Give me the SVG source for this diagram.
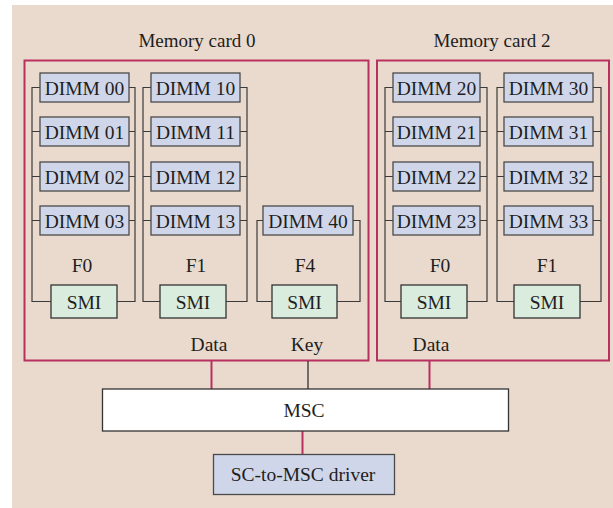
<svg xmlns="http://www.w3.org/2000/svg" width="613" height="508" viewBox="0 0 613 508">
  <style>
    .bg { fill: #eadacd; }
    .card { fill: none; stroke: #b8305f; stroke-width: 2; }
    .dimm { fill: #d0d6e9; stroke: #4a4a4a; stroke-width: 1.3; }
    .smi { fill: #d9ecdd; stroke: #333; stroke-width: 1.3; }
    .msc { fill: #ffffff; stroke: #333; stroke-width: 1.3; }
    .bus { fill: none; stroke: #3a3a3a; stroke-width: 1.2; }
    .red { stroke: #b8305f; stroke-width: 2; fill: none; }
    .key { stroke: #222; stroke-width: 1.2; fill: none; }
    text { font-family: "Liberation Serif", "Times New Roman", serif; fill: #1e1e1e; text-anchor: middle; }
    .t { font-size: 19.5px; }
    .s { font-size: 19px; }
  </style>

  <rect class="bg" x="12" y="5" width="601" height="503"/>

  <!-- Memory card 0 -->
  <g id="card0">
    <rect class="card" x="24.5" y="60.5" width="344" height="300"/>
    <text class="s" x="197" y="47">Memory card 0</text>
  </g>

  <!-- Memory card 2 -->
  <g id="card2">
    <rect class="card" x="377" y="60.5" width="232" height="300"/>
    <text class="s" x="492" y="47">Memory card 2</text>
  </g>

  <!-- connectors: DIMM brackets, buses -->
  <g id="connectors">
    <!-- F0 card 0 -->
    <path class="bus" d="M40 87.5H32V301.5H51 M32 131.5H40 M32 176.5H40 M32 220.5H40 M129 87.5H135V301.5H117 M129 131.5H135 M129 176.5H135 M129 220.5H135"/>
    <!-- F1 card 0 -->
    <path class="bus" d="M151 87.5H143V301.5H160 M143 131.5H151 M143 176.5H151 M143 220.5H151 M240 87.5H247V301.5H226 M240 131.5H247 M240 176.5H247 M240 220.5H247"/>
    <!-- F4 card 0 -->
    <path class="bus" d="M263 220.5H257V301.5H272 M353 220.5H360V301.5H337"/>
    <!-- F0 card 2 -->
    <path class="bus" d="M393 87.5H385V301.5H401 M385 131.5H393 M385 176.5H393 M385 220.5H393 M480 87.5H487V301.5H467 M480 131.5H487 M480 176.5H487 M480 220.5H487"/>
    <!-- F1 card 2 -->
    <path class="bus" d="M504 87.5H497V301.5H514 M497 131.5H504 M497 176.5H504 M497 220.5H504 M593 87.5H601V301.5H580 M593 131.5H601 M593 176.5H601 M593 220.5H601"/>
    <!-- card to MSC -->
    <line class="red" x1="211.5" y1="361" x2="211.5" y2="389"/>
    <line class="key" x1="308" y1="361" x2="308" y2="389"/>
    <line class="red" x1="429.5" y1="361" x2="429.5" y2="389"/>
    <!-- MSC to driver -->
    <line class="red" x1="302.5" y1="431" x2="302.5" y2="454.5"/>
  </g>

  <!-- card 0 DIMMs -->
  <g id="dimm00"><rect class="dimm" x="40" y="73" width="89" height="29"/><text class="t" x="84.5" y="94.5">DIMM 00</text></g>
  <g id="dimm01"><rect class="dimm" x="40" y="117" width="89" height="29"/><text class="t" x="84.5" y="138.5">DIMM 01</text></g>
  <g id="dimm02"><rect class="dimm" x="40" y="162" width="89" height="29"/><text class="t" x="84.5" y="183.5">DIMM 02</text></g>
  <g id="dimm03"><rect class="dimm" x="40" y="206" width="89" height="29"/><text class="t" x="84.5" y="227.5">DIMM 03</text></g>
  <g id="dimm10"><rect class="dimm" x="151" y="73" width="89" height="29"/><text class="t" x="195.5" y="94.5">DIMM 10</text></g>
  <g id="dimm11"><rect class="dimm" x="151" y="117" width="89" height="29"/><text class="t" x="195.5" y="138.5">DIMM 11</text></g>
  <g id="dimm12"><rect class="dimm" x="151" y="162" width="89" height="29"/><text class="t" x="195.5" y="183.5">DIMM 12</text></g>
  <g id="dimm13"><rect class="dimm" x="151" y="206" width="89" height="29"/><text class="t" x="195.5" y="227.5">DIMM 13</text></g>
  <g id="dimm40"><rect class="dimm" x="263" y="206" width="90" height="29"/><text class="t" x="308" y="227.5">DIMM 40</text></g>

  <!-- card 2 DIMMs -->
  <g id="dimm20"><rect class="dimm" x="393" y="73" width="87" height="29"/><text class="t" x="436.5" y="94.5">DIMM 20</text></g>
  <g id="dimm21"><rect class="dimm" x="393" y="117" width="87" height="29"/><text class="t" x="436.5" y="138.5">DIMM 21</text></g>
  <g id="dimm22"><rect class="dimm" x="393" y="162" width="87" height="29"/><text class="t" x="436.5" y="183.5">DIMM 22</text></g>
  <g id="dimm23"><rect class="dimm" x="393" y="206" width="87" height="29"/><text class="t" x="436.5" y="227.5">DIMM 23</text></g>
  <g id="dimm30"><rect class="dimm" x="504" y="73" width="89" height="29"/><text class="t" x="548.5" y="94.5">DIMM 30</text></g>
  <g id="dimm31"><rect class="dimm" x="504" y="117" width="89" height="29"/><text class="t" x="548.5" y="138.5">DIMM 31</text></g>
  <g id="dimm32"><rect class="dimm" x="504" y="162" width="89" height="29"/><text class="t" x="548.5" y="183.5">DIMM 32</text></g>
  <g id="dimm33"><rect class="dimm" x="504" y="206" width="89" height="29"/><text class="t" x="548.5" y="227.5">DIMM 33</text></g>

  <!-- SMIs with channel labels -->
  <g id="smi-c0-f0"><text class="t" x="82" y="272">F0</text><rect class="smi" x="51" y="285" width="66" height="33"/><text class="t" x="84" y="308.5">SMI</text></g>
  <g id="smi-c0-f1"><text class="t" x="196" y="272">F1</text><rect class="smi" x="160" y="285" width="66" height="33"/><text class="t" x="193" y="308.5">SMI</text></g>
  <g id="smi-c0-f4"><text class="t" x="305" y="272">F4</text><rect class="smi" x="272" y="285" width="65" height="33"/><text class="t" x="304.5" y="308.5">SMI</text></g>
  <g id="smi-c2-f0"><text class="t" x="440" y="272">F0</text><rect class="smi" x="401" y="285" width="66" height="33"/><text class="t" x="434" y="308.5">SMI</text></g>
  <g id="smi-c2-f1"><text class="t" x="547" y="272">F1</text><rect class="smi" x="514" y="285" width="66" height="33"/><text class="t" x="547" y="308.5">SMI</text></g>

  <!-- bus labels -->
  <g id="bus-labels">
    <text class="t" x="209" y="351">Data</text>
    <text class="t" x="307" y="351">Key</text>
    <text class="t" x="431" y="351">Data</text>
  </g>

  <g id="msc">
    <rect class="msc" x="102.5" y="389" width="406" height="42"/>
    <text class="t" x="304" y="416.5">MSC</text>
  </g>

  <g id="driver">
    <rect class="dimm" x="213.5" y="454.5" width="181" height="40"/>
    <text class="t" x="303" y="480.5">SC-to-MSC driver</text>
  </g>
</svg>
